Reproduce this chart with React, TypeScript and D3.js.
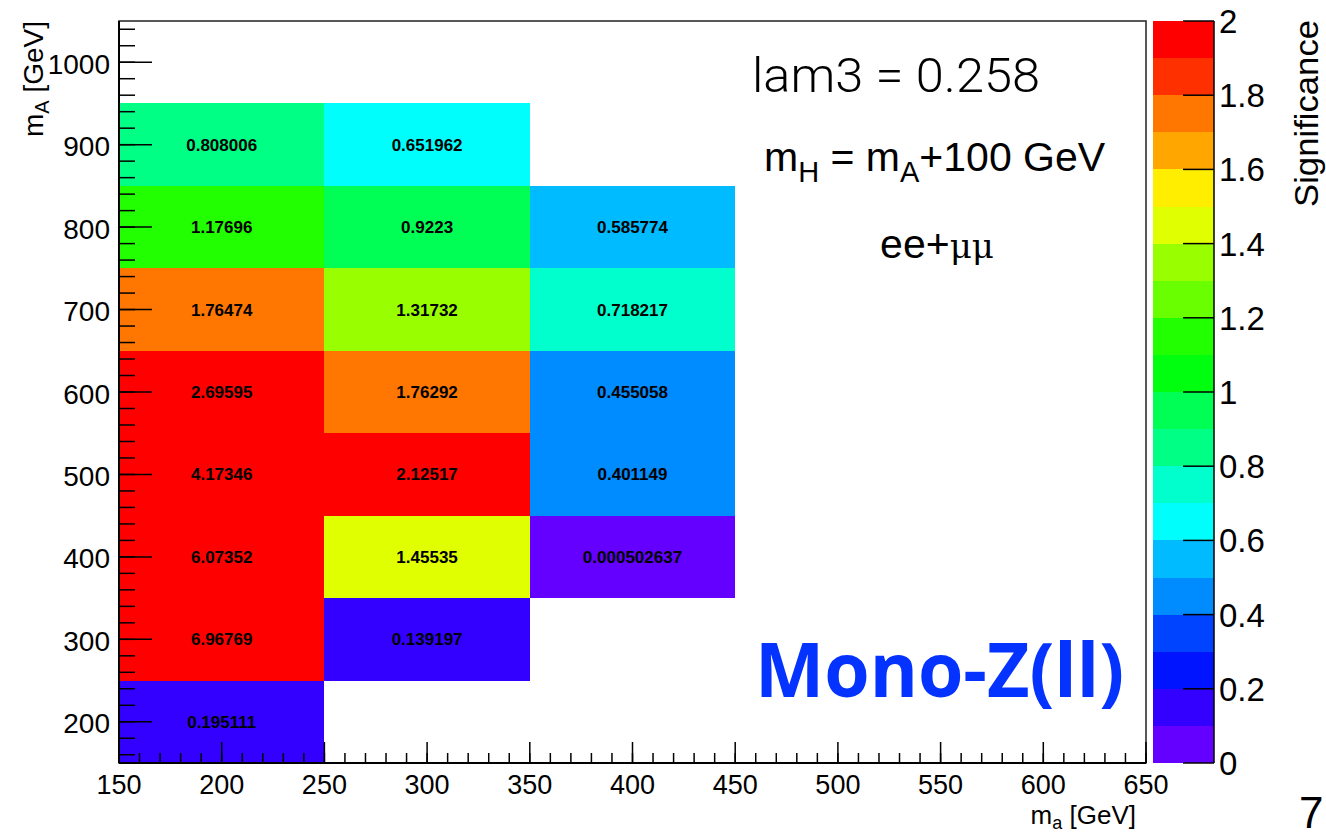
import React from "react";
import * as d3 from "d3";

// Grid points (bin centres, GeV) and the significance in each filled bin
const maCenters = [200, 200, 200, 200, 200, 200, 200, 200, 300, 300, 300, 300, 300, 300, 300, 400, 400, 400, 400, 400];
const mACenters = [200, 300, 400, 500, 600, 700, 800, 900, 300, 400, 500, 600, 700, 800, 900, 400, 500, 600, 700, 800];
const significance = [
  0.195111, 6.96769, 6.07352, 4.17346, 2.69595, 1.76474, 1.17696, 0.808006,
  0.139197, 1.45535, 2.12517, 1.76292, 1.31732, 0.9223, 0.651962,
  0.000502637, 0.401149, 0.455058, 0.718217, 0.585774,
];
const binWidth = 100;

const xTickValues = [150, 200, 250, 300, 350, 400, 450, 500, 550, 600, 650];
const yTickValues = [200, 300, 400, 500, 600, 700, 800, 900, 1000];
const zTickValues = [0, 0.2, 0.4, 0.6, 0.8, 1, 1.2, 1.4, 1.6, 1.8, 2];

const xDomain = [150, 650];
const yDomain = [150, 1050];
const zDomain = [0, 2];
const nContours = 20;

const FONT = "'Liberation Sans', Arial, Helvetica, sans-serif";

// Violet-to-red rainbow palette sampled into 20 contour levels
const paletteColors = d3.range(nContours).map((k) => {
  const i = Math.floor(((k + 0.99) * 50) / nContours);
  const hue = 280 - (i + 1) * (280 / 50);
  return d3.hsl(hue, 1, 0.5).formatHex();
});

export default function App() {
  const left = 119, right = 1146, top = 21, bottom = 763;
  const x = d3.scaleLinear().domain(xDomain).range([left, right]);
  const y = d3.scaleLinear().domain(yDomain).range([bottom, top]);
  const z = d3.scaleLinear().domain(zDomain).range([bottom, top]);
  const zBand = d3.scaleQuantize<string>().domain(zDomain).range(paletteColors);
  const colorOf = (v: number) => (v >= zDomain[1] ? paletteColors[nContours - 1] : zBand(v));

  const xMinor = d3.range(150, 651, 10);
  const yMinor = d3.range(160, 1050, 20);
  const barL = 1153, barR = 1214;
  const levels = d3.range(nContours).map((k) => zDomain[0] + (k * (zDomain[1] - zDomain[0])) / nContours);
  const step = (zDomain[1] - zDomain[0]) / nContours;

  return (
    <svg
      width={1326}
      height={836}
      style={{ position: "absolute", left: 0, top: 0, background: "#fff" }}
      fontFamily={FONT}
    >
      {/* cells */}
      {significance.map((v, i) => {
        const x0 = x(maCenters[i] - binWidth / 2);
        const x1 = x(maCenters[i] + binWidth / 2);
        const y0 = y(mACenters[i] + binWidth / 2);
        const y1 = y(mACenters[i] - binWidth / 2);
        return (
          <rect key={"c" + i} x={x0} y={y0} width={x1 - x0} height={y1 - y0} fill={colorOf(v)} shapeRendering="crispEdges" />
        );
      })}
      {significance.map((v, i) => (
        <text
          key={"t" + i}
          x={x(maCenters[i])}
          y={y(mACenters[i]) + 6}
          textAnchor="middle"
          fontSize={17}
          fontWeight="bold"
          fill="#000"
        >
          {String(v)}
        </text>
      ))}

      {/* frame */}
      <rect x={left} y={top} width={right - left} height={bottom - top} fill="none" stroke="#222" strokeWidth={1.5} />
      <line x1={left} x2={left} y1={top} y2={bottom} stroke="#000" strokeWidth={2} />
      <line x1={left} x2={right} y1={bottom} y2={bottom} stroke="#000" strokeWidth={2} />

      {/* x axis */}
      {xMinor.map((t) => (
        <line key={"xm" + t} x1={x(t)} x2={x(t)} y1={bottom} y2={bottom - 10} stroke="#000" strokeWidth={1.5} />
      ))}
      {xTickValues.map((t) => (
        <g key={"xt" + t}>
          <line x1={x(t)} x2={x(t)} y1={bottom} y2={bottom - 21} stroke="#000" strokeWidth={1.5} />
          <text x={x(t)} y={794} textAnchor="middle" fontSize={27}>
            {t}
          </text>
        </g>
      ))}
      <text x={1136} y={824} textAnchor="end" fontSize={26}>
        m<tspan fontSize={18} dy={5}>a</tspan>
        <tspan dy={-5}> [GeV]</tspan>
      </text>

      {/* y axis */}
      {yMinor.map((t) => (
        <line key={"ym" + t} x1={left} x2={left + 16} y1={y(t)} y2={y(t)} stroke="#000" strokeWidth={1.5} />
      ))}
      {yTickValues.map((t) => (
        <g key={"yt" + t}>
          <line x1={left} x2={left + 33} y1={y(t)} y2={y(t)} stroke="#000" strokeWidth={1.5} />
          <text x={110} y={y(t) + 11.5} textAnchor="end" fontSize={28}>
            {t}
          </text>
        </g>
      ))}
      <text transform="translate(43,21) rotate(-90)" textAnchor="end" fontSize={28}>
        m<tspan fontSize={20} dy={6}>A</tspan>
        <tspan dy={-6}> [GeV]</tspan>
      </text>

      {/* colour scale */}
      {levels.map((lv, k) => (
        <rect
          key={"z" + k}
          x={barL}
          y={z(lv + step)}
          width={barR - barL}
          height={z(lv) - z(lv + step)}
          fill={paletteColors[k]}
          shapeRendering="crispEdges"
        />
      ))}
      <line x1={barR} x2={barR} y1={top} y2={bottom} stroke="#000" strokeWidth={1.5} />
      {zTickValues.map((t) => (
        <g key={"zt" + t}>
          <line x1={barR - 31} x2={barR} y1={z(t)} y2={z(t)} stroke="#000" strokeWidth={1.5} />
          <text x={1219} y={z(t) + 12} fontSize={33}>
            {String(t)}
          </text>
        </g>
      ))}
      <text transform="translate(1318,20) rotate(-90)" textAnchor="end" fontSize={33} textLength={187} lengthAdjust="spacingAndGlyphs">
        Significance
      </text>

      {/* annotations */}
      <text x={752} y={92} fontSize={48} fontFamily="Roboto, 'Open Sans', sans-serif" fontWeight={300} textLength={288} lengthAdjust="spacingAndGlyphs">
        lam3 = 0.258
      </text>
      <text x={764} y={171} fontSize={41}>
        m<tspan fontSize={29} dy={11}>H</tspan>
        <tspan dy={-11}> = m</tspan>
        <tspan fontSize={29} dy={11}>A</tspan>
        <tspan dy={-11}>+100 GeV</tspan>
      </text>
      <text x={937} y={258} fontSize={41} textAnchor="middle">
        ee+<tspan fontFamily="'DejaVu Serif', serif" fontSize={34}>μμ</tspan>
      </text>
      <text
        x={755}
        y={697}
        fontSize={76}
        fontWeight="bold"
        fontFamily="'Open Sans', 'Noto Sans', sans-serif"
        fill="#0433ff"
        textLength={369}
        lengthAdjust="spacingAndGlyphs"
      >
        Mono-Z(ll)
      </text>
      <text x={1299} y={828} fontSize={44}>
        7
      </text>
    </svg>
  );
}
